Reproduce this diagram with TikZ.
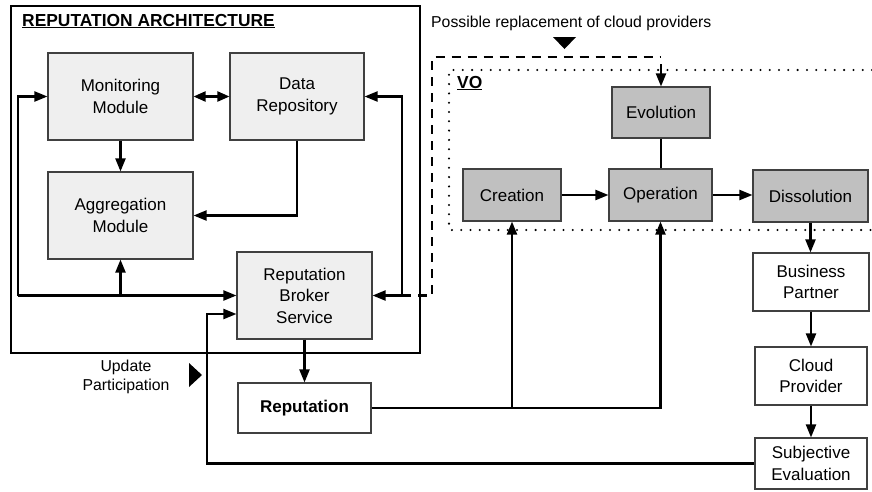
\documentclass[tikz,border=0pt]{standalone}
\usepackage{fontspec}
\setmainfont{Liberation Sans}
\usetikzlibrary{arrows.meta,calc}

\definecolor{modfill}{HTML}{EFEFEF}
\definecolor{vofill}{HTML}{C0C0C0}
\definecolor{edge}{HTML}{404040}

\tikzset{
  box/.style={draw=edge, line width=1.1pt, rectangle, align=center, inner sep=0pt,
              font=\fontsize{17}{21.5}\selectfont},
  modbox/.style={box, fill=modfill},
  vobox/.style={box, fill=vofill},
  plainbox/.style={box, fill=white},
  conn/.style={line width=2.1pt, -{Triangle[length=13pt,width=10pt]}},
  bothconn/.style={line width=2.1pt, {Triangle[length=12pt,width=10pt]}-{Triangle[length=12pt,width=10pt]}},
  wire/.style={line width=2.1pt},
  dashwire/.style={line width=2.1pt, dash pattern=on 9pt off 7pt},
  dotwire/.style={line width=2.3pt, line cap=round, dash pattern=on 0pt off 9.3pt},
  smalltext/.style={font=\fontsize{15.8}{19}\selectfont, inner sep=0pt},
  titletext/.style={font=\bfseries\fontsize{17.4}{21}\selectfont, inner sep=0pt},
}

\begin{document}
\begin{tikzpicture}[x=1pt, y=-1pt]
\useasboundingbox (0,0) rectangle (872,491);

% outer frame of the reputation architecture
\draw[line width=2.3pt] (10.7,6) rectangle (420,353);
\node[titletext, anchor=base west] (title) at (22,26) {\underline{REPUTATION ARCHITECTURE}};

% VO region (dotted, open to the right)
\draw[dotwire] (872,70) -- (449,70) -- (449,230) -- (872,230);
\node[titletext, anchor=base west] (vo) at (457,88) {\underline{VO}};

% architecture modules
\node[modbox, minimum width=145pt, minimum height=87pt] (mon) at (120.5,96.5) {Monitoring\\Module};
\node[modbox, minimum width=134pt, minimum height=87pt] (repo) at (297,96.5) {Data\\Repository};
\node[modbox, minimum width=145pt, minimum height=87pt] (agg) at (120.5,215.5) {Aggregation\\Module};
\node[modbox, minimum width=135pt, minimum height=87pt] (rbs) at (304.5,295.5) {Reputation\\Broker\\Service};
\node[plainbox, minimum width=133pt, minimum height=50pt] (rep) at (304.5,408) {\bfseries Reputation};

% VO life cycle
\node[vobox, minimum width=98pt, minimum height=51pt] (evo) at (661,112.5) {Evolution};
\node[vobox, minimum width=98pt, minimum height=52pt] (cre) at (512,195) {Creation};
\node[vobox, minimum width=103pt, minimum height=52pt] (ope) at (660.5,195) {Operation};
\node[vobox, minimum width=115pt, minimum height=52pt] (dis) at (810.5,196) {Dissolution};

% participants
\node[plainbox, minimum width=116pt, minimum height=58pt] (bp) at (811,282) {Business\\Partner};
\node[plainbox, minimum width=112pt, minimum height=58pt] (cp) at (811,376) {Cloud\\Provider};
\node[plainbox, minimum width=112pt, minimum height=51pt] (se) at (811,463.5) {Subjective\\Evaluation};

% labels with their marker triangles
\node[smalltext, anchor=base west] (possible) at (431,27) {Possible replacement of cloud providers};
\fill (553,37) -- (576,37) -- (564.5,49) -- cycle;
\node[smalltext, align=center] (update) at (126,377) {Update\\Participation};
\fill (189,363) -- (189,387) -- (202,375) -- cycle;

% connectors inside the architecture
\draw[bothconn] (mon.east) -- (repo.west);
\draw[conn] (mon.south) -- (agg.north);
\draw[conn] (repo.south) |- (agg.east);

\coordinate (lj) at (18,295.5);
\coordinate (aj) at (agg.south |- rbs.west);
\draw[conn] (lj) |- (mon.west);
\draw[conn] (lj) -- (rbs.west);
\draw[conn] (aj) -- (agg.south);

\coordinate (rj) at (402,295.5);
\draw[conn] (rj) |- (repo.east);
\draw[conn] (rj) -- (rbs.east);

% possible replacement path towards the evolution phase
\coordinate (dtop) at (661,57);
\draw[dashwire] (rj) -- (432,295.5) -- (432,57) -- (dtop);
\coordinate (evoin) at (661,64);
\draw[conn] (evoin) -- (evo.north);

\draw[conn] (rbs.south) -- (rep.north);

% VO life cycle connectors
\draw[wire] (evo.south) -- (evo.south |- ope.north);
\draw[conn] (cre.east) -- (cre.east -| ope.west);
\draw[conn] (ope.east) -- (ope.east -| dis.west);

% reputation feeds creation and operation
\coordinate (rc) at (cre.south |- rep.east);
\draw[conn] (rep.east) -- (rc) -- (cre.south);
\draw[conn] (rc) -| (ope.south);

% participant chain
\draw[conn] (dis.south) -- (dis.south |- bp.north);
\draw[conn] (bp.south) -- (bp.south |- cp.north);
\draw[conn] (cp.south) -- (se.north);

% feedback of the subjective evaluation
\coordinate (fb) at (207,314);
\draw[conn] (se.west) -| (fb) -- ([yshift=-18.5pt]rbs.west);
\end{tikzpicture}
\end{document}
